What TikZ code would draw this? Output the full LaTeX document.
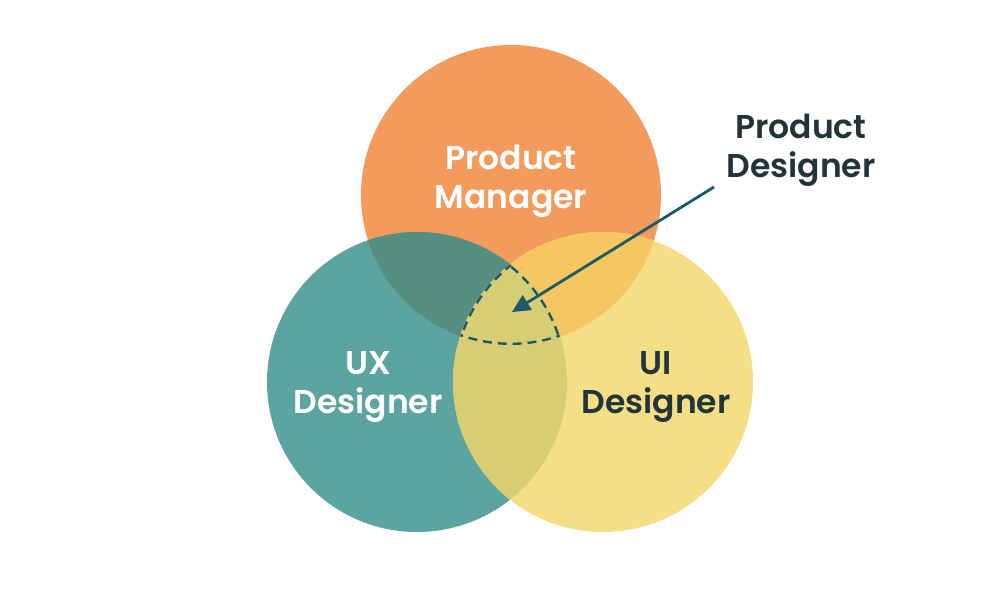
\documentclass[tikz,border=0pt]{standalone}
\usepackage{fontspec}
\setmainfont{Poppins}
\newfontfamily\lab{Poppins SemiBold}
\usetikzlibrary{arrows.meta}
\definecolor{cO}{HTML}{F39B5C}
\definecolor{cT}{HTML}{5BA4A0}
\definecolor{cY}{HTML}{F4DE86}
\definecolor{cOT}{HTML}{568F80}
\definecolor{cOY}{HTML}{F6C661}
\definecolor{cTY}{HTML}{D6CD75}
\definecolor{ink}{HTML}{22343A}
\definecolor{arrowc}{HTML}{1D5A68}
\tikzset{
  lbl/.style={align=center, font=\lab\fontsize{33}{39}\selectfont, inner sep=0pt},
  dashline/.style={arrowc, line width=4.8pt, dash pattern=on 9pt off 6pt},
}
\begin{document}
\begin{tikzpicture}[x=1pt,y=-1pt]
\useasboundingbox (0,0) rectangle (1000,600);
\def\OC{(511,195) circle[radius=150]}
\def\TC{(417,382) circle[radius=150]}
\def\YC{(603,382) circle[radius=150]}
\fill[cO] \OC;
\fill[cT] \TC;
\fill[cY] \YC;
\begin{scope}
  \clip \OC;
  \fill[cOT] \TC;
  \fill[cOY] \YC;
\end{scope}
\begin{scope}
  \clip \TC;
  \fill[cTY] \YC;
\end{scope}
% triple region outline
\begin{scope}
  \clip \OC;
  \clip \TC;
  \clip \YC;
  \draw[dashline] \OC;
  \draw[dashline] \TC;
  \draw[dashline] \YC;
\end{scope}
\node[lbl, text=white] (pm) at (511,181) {Product\\Manager};
\node[lbl, text=ink] (ui) at (656,387) {UI\\Designer};
\node[lbl, text=white] (ux) at (368,387) {UX\\Designer};
\node[lbl, text=ink] (pd) at (801,150) {Product\\Designer};
\coordinate (tip) at (512,312);
\coordinate (tail) at (714,187);
\draw[arrowc, line width=2.8pt, -{Triangle[length=18pt,width=17pt]}] (tail) -- (tip);
\end{tikzpicture}
\end{document}
